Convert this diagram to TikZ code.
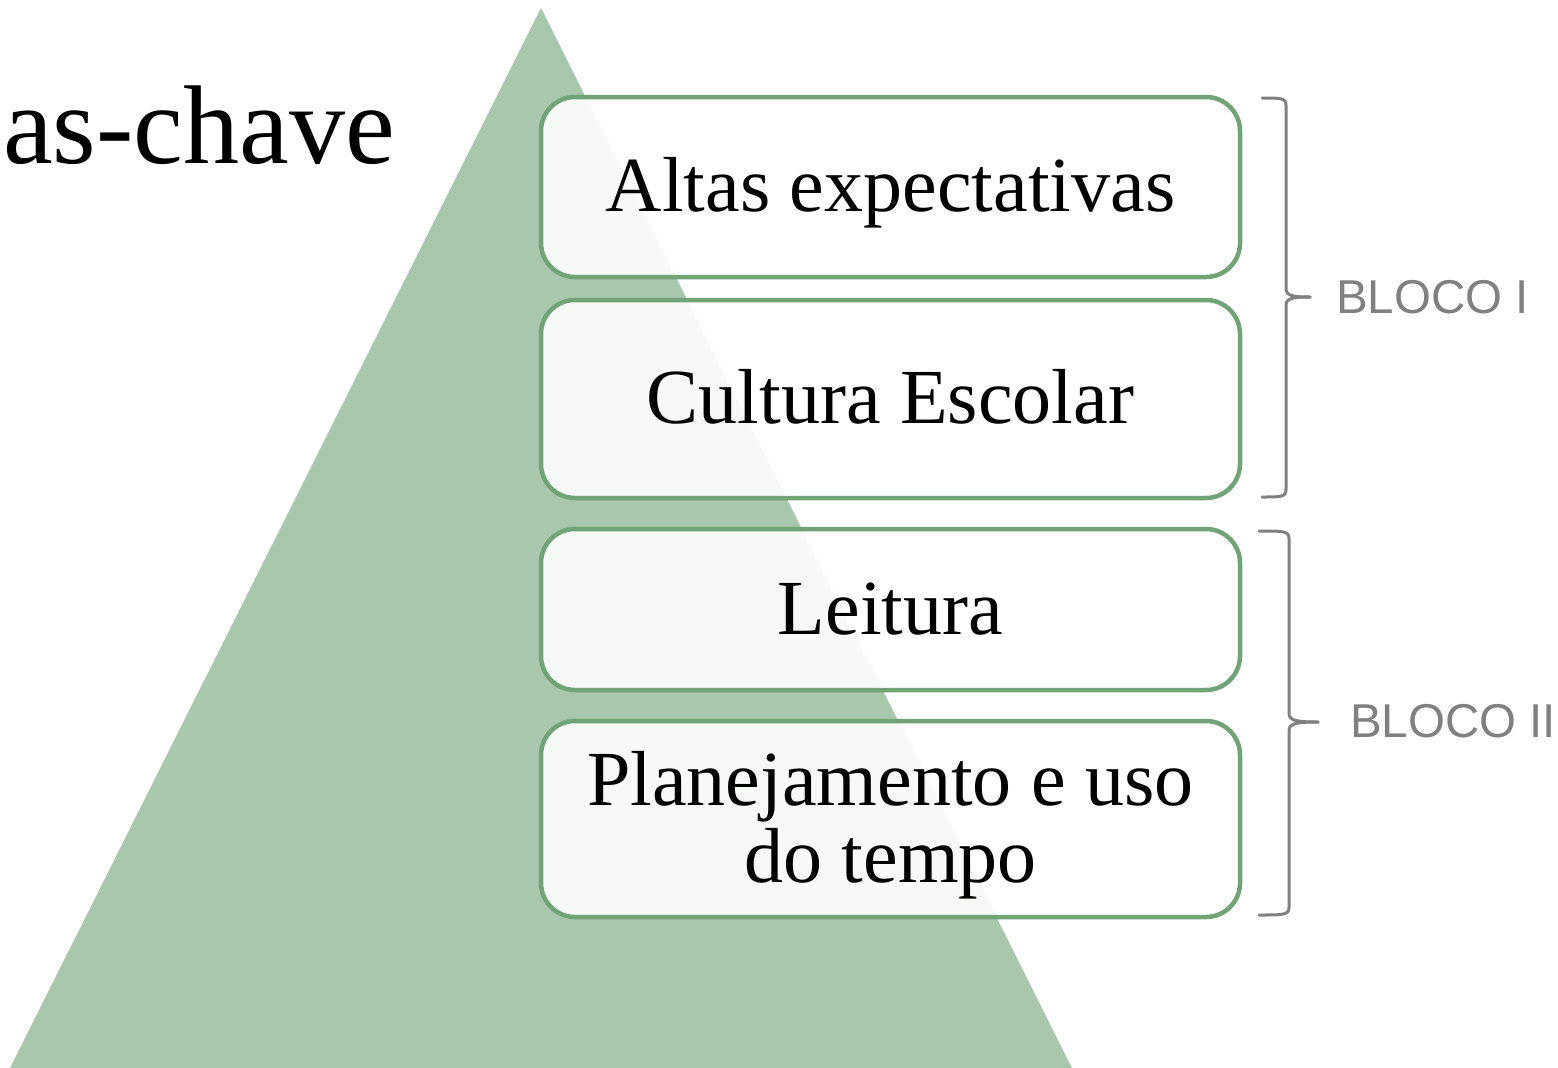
\documentclass[tikz,border=0pt]{standalone}
\usepackage{fontspec}
\setmainfont{Liberation Serif}
\newfontfamily\blocofont{Liberation Sans}
\definecolor{trigreen}{HTML}{A9C7AD}
\definecolor{boxgreen}{HTML}{70A477}
\definecolor{bracegray}{HTML}{808080}
\begin{document}
\begin{tikzpicture}[x=1pt,y=-1pt,
  keybox/.style={draw=boxgreen, line width=4.5pt, rounded corners=34pt, fill=white, fill opacity=0.9, text opacity=1,
    minimum width=699pt, inner sep=0pt, align=center, text height=57pt, text depth=8pt,
    font=\fontsize{78}{77}\selectfont},
  bracepath/.style={draw=bracegray, line width=3pt, line cap=round},
  blocolabel/.style={text=bracegray, font=\blocofont\fontsize{47.5}{50}\selectfont, anchor=west, inner sep=0pt}]
\useasboundingbox (0,0) rectangle (1558,1068);
% triangle
\fill[trigreen] (541,8) -- (1072,1068) -- (10,1068) -- cycle;
% title
\node[anchor=base west, inner sep=0pt, font=\fontsize{112}{120}\selectfont] (title) at (3,163) {as-chave};
% boxes
\node[keybox, minimum height=180pt] (b1) at (890.5,187) {Altas expectativas};
\node[keybox, minimum height=198pt] (b2) at (890.5,399) {Cultura Escolar};
\node[keybox, minimum height=161pt] (b3) at (890.5,609.5) {Leitura};
\node[keybox, minimum height=196pt, text height=134pt] (b4) at (890.5,819) {Planejamento e uso\\do tempo};
% braces
\coordinate (t1) at (1262,98);
\coordinate (m1) at (1310,297);
\coordinate (e1) at (1262,497);
\draw[bracepath] (t1) .. controls (1282,98) and (1286,98) .. (1286,106) -- (1286,288)
  .. controls (1286,295) and (1290,297) .. (m1);
\draw[bracepath] (e1) .. controls (1282,497) and (1286,497) .. (1286,489) -- (1286,306)
  .. controls (1286,299) and (1290,297) .. (m1);
\coordinate (t2) at (1259,531);
\coordinate (m2) at (1318,722);
\coordinate (e2) at (1259,915);
\draw[bracepath] (t2) .. controls (1284,531) and (1289,531) .. (1289,539) -- (1289,713)
  .. controls (1289,720) and (1294,722) .. (m2);
\draw[bracepath] (e2) .. controls (1284,915) and (1289,915) .. (1289,907) -- (1289,731)
  .. controls (1289,724) and (1294,722) .. (m2);
\node[blocolabel] (l1) at (1336,297) {BLOCO I};
\node[blocolabel] (l2) at (1350,721) {BLOCO II};
\end{tikzpicture}
\end{document}
